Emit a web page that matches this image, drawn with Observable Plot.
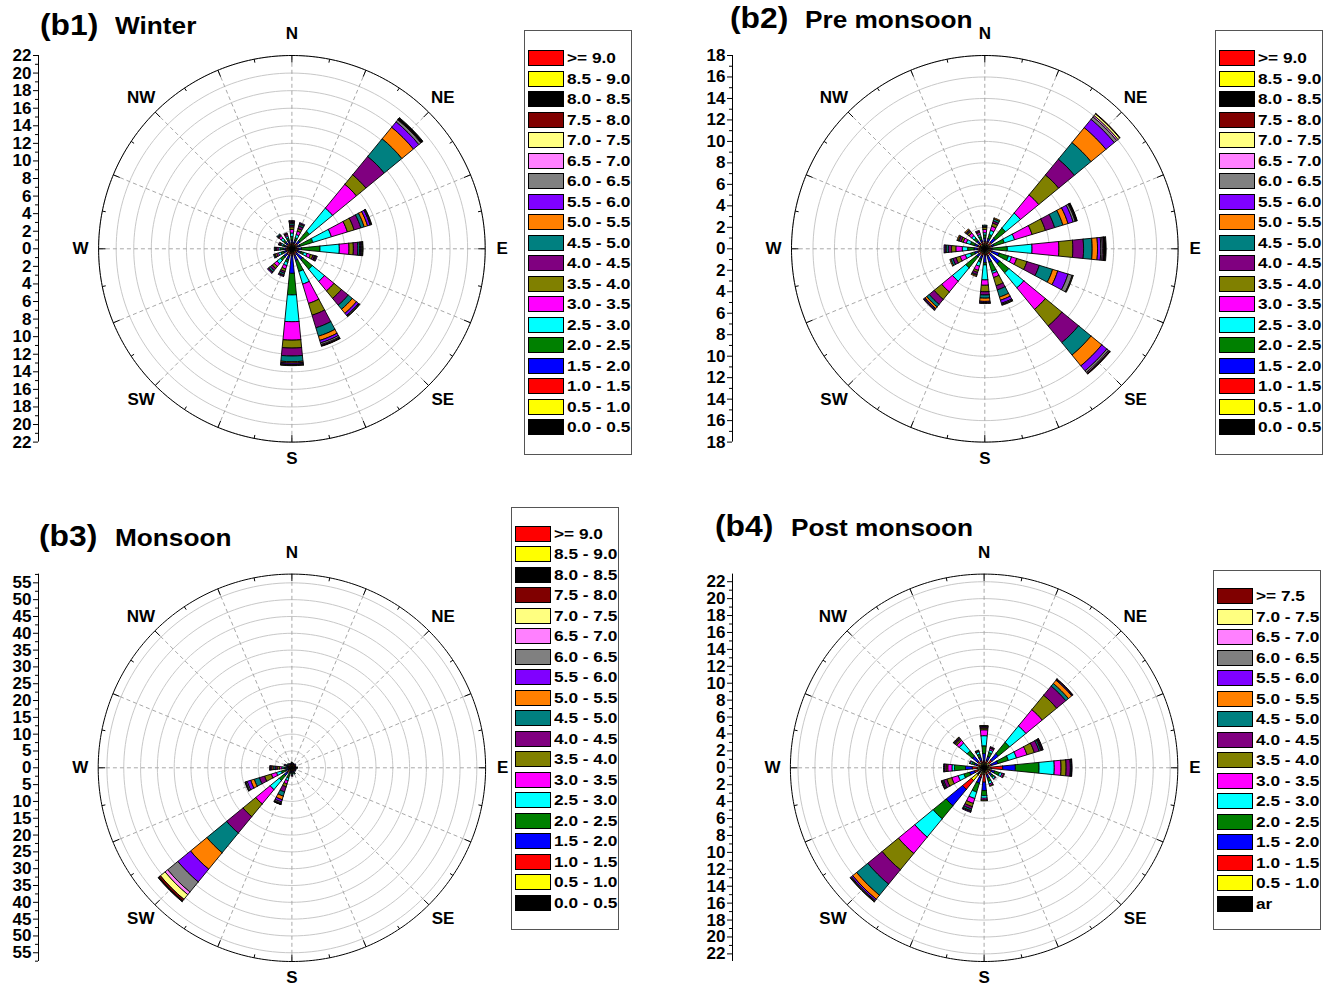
<!DOCTYPE html>
<html>
<head>
<meta charset="utf-8">
<script src="https://cdn.jsdelivr.net/npm/d3@7"></script>
<script src="https://cdn.jsdelivr.net/npm/@observablehq/plot@0.6"></script>
<style>
  body { margin: 0; background: #fff; font-family: Arial, "Liberation Sans", sans-serif; }
  #page { position: relative; width: 1325px; height: 988px; overflow: hidden; background: #fff; }
  #page svg { position: absolute; overflow: visible; }
  .ttl { position: absolute; font-weight: bold; white-space: nowrap; line-height: 1; color: #000; transform-origin: 0 50%; }
  .legend { position: absolute; border: 1px solid #555; background: #fff; box-sizing: border-box; }
  .sw { position: absolute; border: 1px solid #000; box-sizing: border-box; }
  .lt { position: absolute; font-weight: bold; font-size: 15px; white-space: nowrap; color: #000; transform-origin: 0 50%; transform: scaleX(1.15); }
</style>
</head>
<body>
<div id="page"></div>
<script>
// ---------------- DATA ----------------
const directions = ["N","NNE","NE","ENE","E","ESE","SE","SSE","S","SSW","SW","WSW","W","WNW","NW","NNW"];
const compassLabels = ["N","NE","E","SE","S","SW","W","NW"];

// speed bins, lowest first
const speedBins = ["0.0 - 0.5","0.5 - 1.0","1.0 - 1.5","1.5 - 2.0","2.0 - 2.5","2.5 - 3.0","3.0 - 3.5","3.5 - 4.0","4.0 - 4.5","4.5 - 5.0","5.0 - 5.5","5.5 - 6.0","6.0 - 6.5","6.5 - 7.0","7.0 - 7.5","7.5 - 8.0","8.0 - 8.5","8.5 - 9.0",">= 9.0"];
const speedBinsPost = ["ar","0.5 - 1.0","1.0 - 1.5","1.5 - 2.0","2.0 - 2.5","2.5 - 3.0","3.0 - 3.5","3.5 - 4.0","4.0 - 4.5","4.5 - 5.0","5.0 - 5.5","5.5 - 6.0","6.0 - 6.5","6.5 - 7.0","7.0 - 7.5",">= 7.5"];
const binColors = ["#000000","#FFFF00","#FF0000","#0000FF","#008000","#00FFFF","#FF00FF","#808000","#800080","#008080","#FF8000","#8000FF","#808080","#FF80FF","#FFFF80","#800000","#000000","#FFFF00","#FF0000"];

// frequency (%) per direction (N..NNW), per speed bin (lowest first)
const winterFreq = [
  [0.4,0.1,0.2,0.3,0.4,0.4,0.4,0.3,0.2,0.2,0.1,0.1,0.05,0.05],
  [0.4,0.1,0.2,0.3,0.3,0.4,0.4,0.3,0.3,0.2,0.1,0.1],
  [0.5,0.1,0.2,0.4,1.4,3.4,3.5,1.4,2.7,2.6,1.7,0.8,0.3,0.05,0.05,0.05,0.15],
  [0.4,0.1,0.2,0.3,1.5,2.2,1.9,0.8,0.8,0.4,0.4,0.3,0.1,0.05,0.05],
  [0.4,0.1,0.2,0.4,2.1,2.2,1.1,0.5,0.5,0.2,0.1,0.1,0.1,0.05,0.05],
  [0.4,0.1,0.2,0.4,0.3,0.4,0.4,0.3,0.2,0.1,0.1,0.1],
  [0.4,0.1,0.2,0.9,1.4,1.8,1.4,1.1,1.0,0.6,0.6,0.3,0.1,0.05,0.05],
  [0.4,0.1,0.3,0.6,1.3,1.5,2.3,1.4,1.5,1.0,0.5,0.3,0.2,0.1,0.05,0.05],
  [0.4,0.1,0.3,2.0,2.45,3.05,2.1,0.9,0.9,0.65,0.15,0.15,0.05,0.05,0.05],
  [0.4,0.1,0.3,0.5,0.3,0.4,0.4,0.3,0.2,0.2,0.1,0.1],
  [0.4,0.1,0.3,0.4,0.5,0.5,0.4,0.3,0.3,0.2,0.1,0.1],
  [0.4,0.1,0.2,0.3,0.3,0.3,0.2,0.2,0.1,0.1],
  [0.4,0.1,0.2,0.3,0.3,0.2,0.2,0.1,0.1,0.1],
  [0.4,0.1,0.2,0.2,0.2,0.2,0.1,0.1,0.1],
  [0.4,0.1,0.2,0.3,0.3,0.3,0.3,0.1,0.1,0.1],
  [0.4,0.1,0.2,0.3,0.3,0.2,0.2,0.1,0.1]
];
const preMonsoonFreq = [
  [0.4,0.1,0.2,0.3,0.3,0.2,0.3,0.2,0.1,0.1],
  [0.4,0.1,0.2,0.3,0.4,0.4,0.4,0.3,0.2,0.2,0.1],
  [0.4,0.1,0.3,0.5,1.2,1.8,2.2,2.4,1.9,2.0,1.8,1.0,0.3,0.15,0.2,0.05],
  [0.4,0.1,0.2,0.2,1.0,1.0,1.7,1.3,0.9,0.8,0.5,0.5,0.2,0.05,0.05,0.05,0.05],
  [0.4,0.1,0.1,0.1,1.4,2.3,2.5,1.3,1.0,0.8,0.5,0.3,0.15,0.1,0.05,0.05,0.15],
  [0.4,0.1,0.2,0.7,0.9,0.3,0.5,1.0,1.2,1.3,0.5,1.0,0.4,0.05,0.05],
  [0.4,0.1,0.2,1.1,1.1,1.8,2.6,2.0,2.0,1.5,1.3,0.6,0.2,0.1,0.05,0.05],
  [0.4,0.1,0.2,0.6,0.9,0.2,0.4,0.8,0.4,0.7,0.3,0.3,0.1,0.05,0.05],
  [0.4,0.1,0.1,0.7,0.2,1.4,0.5,0.6,0.3,0.3,0.3,0.1,0.05,0.05],
  [0.4,0.1,0.2,0.3,0.3,0.4,0.4,0.2,0.2,0.1,0.1],
  [0.4,0.1,0.2,0.3,1.3,1.6,1.3,0.9,0.6,0.3,0.2,0.1,0.05,0.05],
  [0.4,0.1,0.2,0.3,0.4,0.5,0.5,0.4,0.3,0.2,0.1],
  [0.4,0.1,0.2,0.3,0.6,0.5,0.6,0.4,0.3,0.2,0.1,0.1],
  [0.4,0.1,0.2,0.3,0.4,0.4,0.3,0.2,0.2,0.1,0.1],
  [0.4,0.1,0.2,0.3,0.3,0.3,0.3,0.2,0.1,0.1,0.1],
  [0.4,0.1,0.2,0.2,0.3,0.2,0.2,0.1,0.1]
];
const monsoonFreq = [
  [0.6,0.3,0.3,0.3,0.2],
  [0.6,0.3,0.3,0.2],
  [0.6,0.3,0.3,0.3],
  [0.6,0.3,0.2,0.2],
  [0.6,0.3,0.3,0.3,0.2],
  [0.6,0.3,0.2,0.2],
  [0.6,0.3,0.3,0.2],
  [0.6,0.3,0.3,0.3,0.3,0.2],
  [0.6,0.3,0.3,0.4,0.4,0.3,0.2],
  [0.6,0.3,0.3,0.4,1.6,0.8,1.0,0.9,1.6,1.3,1.1,0.7,0.4,0.2,0.1,0.05,0.05],
  [0.8,0.5,0.6,1.1,1.9,3.5,5.5,4.9,6.3,7.6,6.3,4.9,3.9,1.0,1.8,0.6,0.3],
  [0.6,0.3,0.4,0.7,1.3,1.5,1.6,2.1,1.6,1.6,1.1,1.1,0.4,0.2,0.1],
  [0.6,0.3,0.4,0.5,0.6,0.6,0.7,0.7,0.6,0.6,0.4,0.3,0.2,0.1],
  [0.6,0.3,0.3,0.4,0.3,0.3,0.2],
  [0.6,0.3,0.3,0.3,0.2],
  [0.6,0.3,0.3,0.2]
];
const postMonsoonFreq = [
  [0.4,0.2,0.2,0.9,0.9,1.2,0.7,0.2,0.15,0.1,0.05],
  [0.4,0.2,0.3,0.5,0.5,0.3,0.2,0.1,0.1],
  [0.5,0.3,0.4,1.0,1.7,2.5,2.5,2.2,1.4,0.4,0.5,0.1,0.05,0.05],
  [0.4,0.2,0.3,0.8,1.3,1.0,1.3,0.9,0.6,0.2,0.1,0.1,0.05,0.05],
  [0.5,0.3,1.4,1.5,2.8,1.8,0.8,0.6,0.5,0.1,0.05,0.05],
  [0.4,0.2,0.3,0.4,0.6,0.3,0.2,0.1],
  [0.4,0.2,0.3,0.3,0.3,0.2,0.1],
  [0.4,0.2,0.3,0.4,0.4,0.3,0.2,0.1],
  [0.5,0.3,0.9,1.0,0.6,0.3,0.2,0.1],
  [0.5,0.3,0.4,0.7,1.1,0.8,0.6,0.4,0.3,0.2,0.1,0.1],
  [1.1,0.85,1.35,2.5,2.0,2.8,2.5,2.5,2.2,1.7,0.6,0.2,0.1,0.05,0.05],
  [0.5,0.3,0.4,0.6,0.7,0.7,0.8,0.6,0.4,0.15,0.1,0.05],
  [0.5,0.3,0.6,0.8,1.3,0.3,0.5,0.2,0.2,0.1],
  [0.4,0.2,0.3,0.3,0.3,0.2,0.1],
  [0.5,0.2,0.3,0.8,0.8,1.2,0.4,0.2,0.15,0.1,0.05],
  [0.4,0.2,0.3,0.4,0.4,0.3,0.1,0.1]
];

// radial axis tick labels
const winterTicks = [0,2,4,6,8,10,12,14,16,18,20,22];
const preMonsoonTicks = [0,2,4,6,8,10,12,14,16,18];
const monsoonTicks = [0,5,10,15,20,25,30,35,40,45,50,55];
const postMonsoonTicks = [0,2,4,6,8,10,12,14,16,18,20,22];

// ---------------- LAYOUT ----------------
const panels = [
  { tag: "(b1)", name: "Winter", freq: winterFreq, ticks: winterTicks, minor: 1, rMax: 22,
    cx: 291.7, cy: 248.3, R: 193.3, axisX: 38.3, labels: speedBins,
    tagPos: [40, 35], namePos: [115, 34],
    legend: { left: 524.3, top: 30, width: 107.4, height: 425, first: 50 } },
  { tag: "(b2)", name: "Pre monsoon", freq: preMonsoonFreq, ticks: preMonsoonTicks, minor: 1, rMax: 18,
    cx: 984, cy: 248.3, R: 193.3, axisX: 731.7, labels: speedBins,
    tagPos: [730, 28.5], namePos: [805, 28.5],
    legend: { left: 1215, top: 30, width: 107.5, height: 425, first: 50 } },
  { tag: "(b3)", name: "Monsoon", freq: monsoonFreq, ticks: monsoonTicks, minor: 2.5, rMax: 57.6,
    cx: 291.7, cy: 767.7, R: 193.7, axisX: 38.3, labels: speedBins,
    tagPos: [39, 546.5], namePos: [115, 546],
    legend: { left: 511, top: 507, width: 108, height: 423, first: 525.5 } },
  { tag: "(b4)", name: "Post monsoon", freq: postMonsoonFreq, ticks: postMonsoonTicks, minor: 1, rMax: 22.9,
    cx: 983.3, cy: 767.7, R: 193.7, axisX: 731.7, labels: speedBinsPost,
    tagPos: [715, 536.5], namePos: [790.5, 536],
    legend: { left: 1213, top: 570, width: 107.7, height: 360, first: 588.3 } }
];
// pixel gap between rim and compass label centre, per label
const compassGap = [22, 20, 17, 20, 16, 20, 18, 20];

const page = document.getElementById("page");
const rad = d => d * Math.PI / 180;

function roseSvg(p) {
  const W = 520, H = 490;
  const left = p.axisX - 38, top = p.cy - 248.3;
  const lcx = p.cx - left, lcy = p.cy - top, lax = p.axisX - left;
  const ppu = p.R / p.rMax;
  const xDomain = [-(lcx - lax) / ppu, (W - lcx) / ppu];
  const yDomain = [-(H - lcy) / ppu, lcy / ppu];

  // wedges
  const half = 5.625, steps = 4;
  const wedges = [];
  p.freq.forEach((vals, i) => {
    const th = i * 22.5;
    let r0 = 0;
    vals.forEach((v, b) => {
      const r1 = r0 + v;
      const pts = [];
      for (let k = 0; k <= steps; k++) pts.push([r1, th - half + k * 2 * half / steps]);
      for (let k = steps; k >= 0; k--) pts.push([r0, th - half + k * 2 * half / steps]);
      pts.push(pts[0]);
      for (const [r, a] of pts) wedges.push({ id: i + "-" + b, color: binColors[b], x: r * Math.sin(rad(a)), y: r * Math.cos(rad(a)) });
      r0 = r1;
    });
  });

  // grid circles
  const step = p.ticks[1] - p.ticks[0];
  const circles = [];
  for (const t of p.ticks.filter(t => t > 0)) {
    for (let a = 0; a <= 360; a += 2) circles.push({ r: t, x: t * Math.sin(rad(a)), y: t * Math.cos(rad(a)) });
  }
  const outer = [];
  for (let a = 0; a <= 360; a += 1) outer.push({ x: p.rMax * Math.sin(rad(a)), y: p.rMax * Math.cos(rad(a)) });

  // radial dashed spokes
  const spokes = directions.map((d, i) => ({ x1: 0, y1: 0, x2: p.rMax * Math.sin(rad(i * 22.5)), y2: p.rMax * Math.cos(rad(i * 22.5)) }));

  // ticks on outer circle
  const rimTicks = d3.range(32).map(k => {
    const a = rad(k * 11.25), len = (k % 2 === 0 ? 7 : 3.5) / ppu;
    return { x1: p.rMax * Math.sin(a), y1: p.rMax * Math.cos(a), x2: (p.rMax - len) * Math.sin(a), y2: (p.rMax - len) * Math.cos(a) };
  });

  // compass labels
  const compass = compassLabels.map((t, i) => {
    const lr = p.rMax + compassGap[i] / ppu;
    return { t, x: lr * Math.sin(rad(i * 45)), y: lr * Math.cos(rad(i * 45)) };
  });

  // radial axis
  const major = [...p.ticks.slice(1).map(t => -t).reverse(), ...p.ticks];
  const minorVals = d3.range(p.minor, p.rMax + 1e-9, p.minor).filter(v => Math.abs(v / step - Math.round(v / step)) > 1e-6);
  const minor = [...minorVals.map(v => -v), ...minorVals];

  const svg = Plot.plot({
    width: W, height: H,
    marginLeft: lax, marginRight: 0, marginTop: 0, marginBottom: 0,
    x: { domain: xDomain, axis: null },
    y: { domain: yDomain, label: null },
    color: { type: "identity" },
    style: { fontFamily: "Arial, 'Liberation Sans', sans-serif", fontSize: "17px", fontWeight: "bold", background: "transparent", overflow: "visible", color: "#000" },
    marks: [
      Plot.line(circles, { x: "x", y: "y", z: "r", stroke: "#c8c8c8", strokeWidth: 1, curve: "linear" }),
      Plot.link(spokes, { x1: "x1", y1: "y1", x2: "x2", y2: "y2", stroke: "#a8a8a8", strokeWidth: 1, strokeDasharray: "4,3" }),
      Plot.line(wedges, { x: "x", y: "y", z: "id", fill: "color", stroke: "#000", strokeWidth: 0.9, curve: "linear", strokeLinejoin: "miter" }),
      Plot.line(outer, { x: "x", y: "y", stroke: "#000", strokeWidth: 1, curve: "linear" }),
      Plot.link(rimTicks, { x1: "x1", y1: "y1", x2: "x2", y2: "y2", stroke: "#000", strokeWidth: 1 }),
      Plot.text(compass, { x: "x", y: "y", text: "t", fontSize: 17, fontWeight: "bold", textAnchor: "middle", lineAnchor: "middle", fill: "#000" }),
      Plot.ruleX([xDomain[0]], { y1: -p.rMax, y2: p.rMax, stroke: "#000", strokeWidth: 1 }),
      Plot.axisY(major, { anchor: "left", tickSize: 5, tickPadding: 2, tickFormat: d => String(Math.abs(d)), fontSize: 17, fontWeight: "bold", label: null }),
      Plot.axisY(minor, { anchor: "left", tickSize: 3, tickFormat: () => "", label: null })
    ]
  });
  svg.style.left = left + "px";
  svg.style.top = top + "px";
  return svg;
}

function title(text, x, baseline, size, sx) {
  const el = document.createElement("div");
  el.className = "ttl";
  el.textContent = text;
  el.style.fontSize = size + "px";
  const off = (size - 1.117 * size) / 2 + 0.905 * size;
  el.style.left = x + "px";
  el.style.top = (baseline - off) + "px";
  el.style.transform = "scaleX(" + sx + ")";
  page.appendChild(el);
}

function legend(p) {
  const L = p.legend;
  const box = document.createElement("div");
  box.className = "legend";
  Object.assign(box.style, { left: L.left + "px", top: L.top + "px", width: L.width + "px", height: L.height + "px" });
  page.appendChild(box);
  const n = p.labels.length;
  for (let k = 0; k < n; k++) {
    const b = n - 1 - k;
    const y = L.first + k * 20.5;
    const sw = document.createElement("div");
    sw.className = "sw";
    Object.assign(sw.style, { left: (L.left + 3.5) + "px", top: y + "px", width: "36px", height: "16px", background: binColors[b] });
    page.appendChild(sw);
    const t = document.createElement("div");
    t.className = "lt";
    t.textContent = p.labels[b];
    Object.assign(t.style, { left: (L.left + 42.5) + "px", top: (y - 1) + "px", lineHeight: "18px" });
    page.appendChild(t);
  }
}

for (const p of panels) {
  page.appendChild(roseSvg(p));
  title(p.tag, p.tagPos[0], p.tagPos[1], 30, 1.06);
  title(p.name, p.namePos[0], p.namePos[1], 23, 1.14);
  legend(p);
}
</script>
</body>
</html>
